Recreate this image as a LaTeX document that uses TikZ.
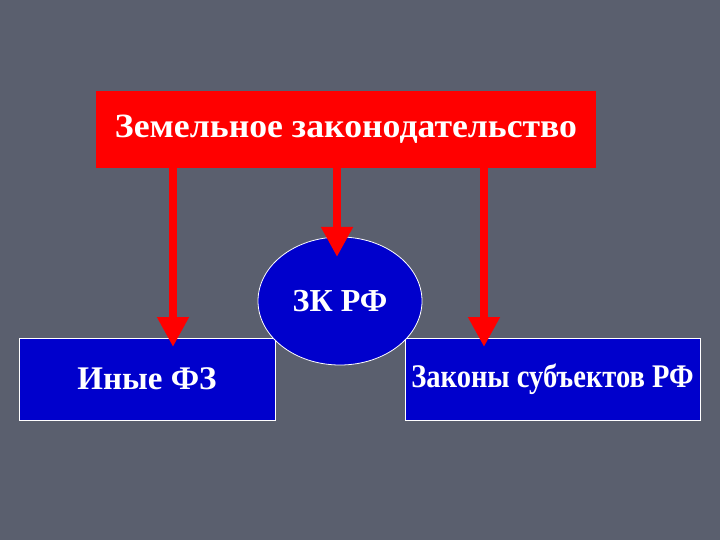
\documentclass[tikz,border=0pt]{standalone}
\usepackage{fontspec}
\setmainfont{Liberation Serif}
\usetikzlibrary{arrows.meta, shapes.geometric}
\definecolor{slide}{HTML}{5A5F6E}
\definecolor{lawred}{HTML}{FF0000}
\definecolor{lawblue}{HTML}{0000CC}
\newcommand{\figHead}{{Triangle[length=30pt, width=30pt]}}

\begin{document}
\begin{tikzpicture}[x=1pt, y=-1pt, font=\bfseries\fontsize{33}{38}\selectfont,
	redbox/.style={fill=lawred, text=white, inner sep=0pt},
	bluebox/.style={fill=lawblue, draw=white, line width=0.8pt, text=white, inner sep=0pt},
	downarrow/.style={draw=lawred, line width=8pt, -\figHead}]
	\fill[slide] (0,0) rectangle (720,540);
	\useasboundingbox (0,0) rectangle (720,540);
	
	\node[redbox, minimum width=500pt, minimum height=77pt]	(zem) at (346,129.5) {\raisebox{-2pt}{\scalebox{1.05}[1]{\fontsize{34}{40}\selectfont Земельное законодательство}}};
	\node[bluebox, minimum width=256pt, minimum height=82pt]	(inye) at (147,379) {Иные ФЗ};
	\node[bluebox, minimum width=295pt, minimum height=82pt]	(zakony) at (552.5,379) {\scalebox{0.865}[1]{Законы субъектов РФ}};
	\node[bluebox, ellipse, minimum width=164pt, minimum height=128pt]	(zk) at (340,301) {\fontsize{32}{38}\selectfont ЗК РФ};
	
	\coordinate (t1) at (173,347);
	\coordinate (t2) at (337,257);
	\coordinate (t3) at (484,347);
	\draw[downarrow]	(zem.south -| t1) -- (t1);
	\draw[downarrow]	(zem.south -| t2) -- (t2);
	\draw[downarrow]	(zem.south -| t3) -- (t3);
\end{tikzpicture}
\end{document}
